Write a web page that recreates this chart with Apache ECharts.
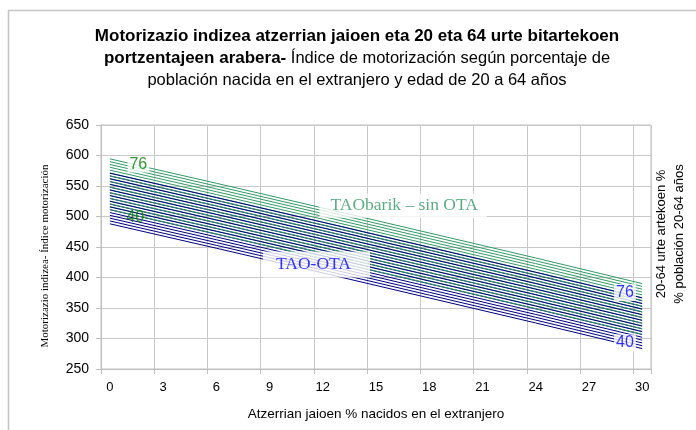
<!DOCTYPE html>
<html><head><meta charset="utf-8">
<script src="https://cdn.jsdelivr.net/npm/echarts@6/dist/echarts.min.js"></script>
<style>html,body{margin:0;padding:0;background:#fff}#c{width:696px;height:430px}</style>
</head><body><div id="c"></div>
<script>
// x categories: % born abroad
const categories = ['0','1','2','3','4','5','6','7','8','9','10','11','12','13','14','15','16','17','18','19','20','21','22','23','24','25','26','27','28','29','30'];
// x positions (category values) where each line's values were read
const pointX = [0, 6, 12, 18, 24, 30];
// % population aged 20-64 for each line
const popLevels = [40,42,44,46,48,50,52,54,56,58,60,62,64,66,68,70,72,74,76];
// TAObarik – sin OTA (green), one row per population level
const greenLines = [
  [511.5, 471.5, 431.0, 390.0, 349.0, 307.0],
  [516.1, 476.1, 435.6, 394.6, 353.6, 311.6],
  [520.7, 480.7, 440.2, 399.2, 358.2, 316.2],
  [525.3, 485.3, 444.8, 403.8, 362.8, 320.8],
  [529.9, 489.9, 449.4, 408.4, 367.4, 325.4],
  [534.6, 494.6, 454.1, 413.1, 372.1, 330.1],
  [539.2, 499.2, 458.7, 417.7, 376.7, 334.7],
  [543.8, 503.8, 463.3, 422.3, 381.3, 339.3],
  [548.4, 508.4, 467.9, 426.9, 385.9, 343.9],
  [553.0, 513.0, 472.5, 431.5, 390.5, 348.5],
  [557.6, 517.6, 477.1, 436.1, 395.1, 353.1],
  [562.2, 522.2, 481.7, 440.7, 399.7, 357.7],
  [566.8, 526.8, 486.3, 445.3, 404.3, 362.3],
  [571.4, 531.4, 490.9, 449.9, 408.9, 366.9],
  [576.0, 536.0, 495.5, 454.5, 413.5, 371.5],
  [580.7, 540.7, 500.2, 459.2, 418.2, 376.2],
  [585.3, 545.3, 504.8, 463.8, 422.8, 380.8],
  [589.9, 549.9, 509.4, 468.4, 427.4, 385.4],
  [594.5, 554.5, 514.0, 473.0, 432.0, 390.0]
];
// TAO-OTA (blue), one row per population level
const blueLines = [
  [488.0, 448.0, 407.5, 366.5, 325.5, 283.5],
  [492.7, 452.7, 412.2, 371.2, 330.2, 288.2],
  [497.3, 457.3, 416.8, 375.8, 334.8, 292.8],
  [501.9, 461.9, 421.4, 380.4, 339.4, 297.4],
  [506.5, 466.5, 426.0, 385.0, 344.0, 302.0],
  [511.1, 471.1, 430.6, 389.6, 348.6, 306.6],
  [515.7, 475.7, 435.2, 394.2, 353.2, 311.2],
  [520.3, 480.3, 439.8, 398.8, 357.8, 315.8],
  [524.9, 484.9, 444.4, 403.4, 362.4, 320.4],
  [529.5, 489.5, 449.0, 408.0, 367.0, 325.0],
  [534.2, 494.2, 453.7, 412.7, 371.7, 329.7],
  [538.8, 498.8, 458.3, 417.3, 376.3, 334.3],
  [543.4, 503.4, 462.9, 421.9, 380.9, 338.9],
  [548.0, 508.0, 467.5, 426.5, 385.5, 343.5],
  [552.6, 512.6, 472.1, 431.1, 390.1, 348.1],
  [557.2, 517.2, 476.7, 435.7, 394.7, 352.7],
  [561.8, 521.8, 481.3, 440.3, 399.3, 357.3],
  [566.4, 526.4, 485.9, 444.9, 403.9, 361.9],
  [571.0, 531.0, 490.5, 449.5, 408.5, 366.5]
];

const GREEN = '#339966', BLUE = '#000080';
const chart = echarts.init(document.getElementById('c'), null, {renderer: 'canvas'});

const lineSeries = [];
popLevels.forEach((p, i) => {
  lineSeries.push({
    name: 'TAO-OTA ' + p, type: 'line', silent: true, showSymbol: false, symbol: 'none',
    z: (i >= 5 && (i - 5) % 2 === 1) ? 3 : 2,
    lineStyle: {color: BLUE, width: 1},
    data: pointX.map((x, j) => [x, blueLines[i][j]])
  });
});
popLevels.forEach((p, i) => {
  lineSeries.push({
    name: 'TAObarik ' + p, type: 'line', silent: true, showSymbol: false, symbol: 'none',
    z: (i % 2 === 0) ? 3 : 2,
    lineStyle: {color: GREEN, width: 1},
    data: pointX.map((x, j) => [x, greenLines[i][j]])
  });
});

const numLabel = (color, bg, offset, pad) => ({
  show: true, position: 'inside', color: color, fontFamily: 'Liberation Sans', fontSize: 16,
  lineHeight: 15, backgroundColor: bg, padding: pad, offset: offset
});

lineSeries.push({
  name: 'labels', type: 'scatter', silent: true, symbolSize: 0, z: 10,
  data: [
    {value: [2, 584.4], label: Object.assign(numLabel('#008000', '#fff', [-7, 0], [0, 2, 0, 2]), {formatter: String(popLevels[popLevels.length - 1])})},
    {value: [1, 498.7], label: Object.assign(numLabel('#008000', 'transparent', [7.6, 0], 0), {formatter: String(popLevels[0])})},
    {value: [29, 375.4], label: Object.assign(numLabel('#0000ff', '#fff', [0.6, 0], [1, 2, 1, 2]), {formatter: String(popLevels[popLevels.length - 1])})},
    {value: [29, 292.9], label: Object.assign(numLabel('#0000ff', '#fff', [0.6, 0], [1, 2, 1, 2]), {formatter: String(popLevels[0])})},
    {value: [17, 517.7], label: {show: true, position: 'inside', formatter: 'TAObarik – sin OTA', color: GREEN,
      fontFamily: 'Liberation Serif', fontSize: 17.5, lineHeight: 18, backgroundColor: '#fff', padding: [3, 9, 3, 11], offset: [-8.3, 0]}},
    {value: [11, 416.4], label: {show: true, position: 'inside', formatter: 'TAO-OTA', color: '#0000ff',
      fontFamily: 'Liberation Serif', fontSize: 17.5, lineHeight: 18, backgroundColor: '#fff', padding: [7, 19, 1, 13], offset: [11.5, -3]}}
  ]
});

chart.setOption({
  animation: false,
  backgroundColor: '#fff',
  title: {
    text: '{b|Motorizazio indizea atzerrian jaioen eta 20 eta 64 urte bitartekoen}\n{b|portzentajeen arabera-}{n| Índice de motorización según porcentaje de}\n{n|población nacida en el extranjero y edad de 20 a 64 años}',
    left: 357, textAlign: 'center', top: 25, padding: 0,
    textStyle: {
      rich: {
        b: {fontFamily: 'Liberation Sans', fontWeight: 'bold', fontSize: 17, lineHeight: 22, color: '#000'},
        n: {fontFamily: 'Liberation Sans', fontWeight: 'normal', fontSize: 16.5, lineHeight: 22, color: '#000'}
      }
    }
  },
  graphic: [
    {type: 'rect', silent: true, z: -10, shape: {x: 8.5, y: 10.5, width: 800, height: 600},
      style: {fill: 'none', stroke: '#c4c4c4', lineWidth: 1.5}},
    {type: 'text', silent: true, x: 670, y: 234, rotation: Math.PI / 2,
      style: {text: '20-64 urte artekoen %\n% población 20-64 años', font: '13px "Liberation Sans"', align: 'center', verticalAlign: 'middle', lineHeight: 18, fill: '#000'}}
  ],
  grid: {left: 101, right: 45, top: 125, bottom: 61, show: true, borderColor: '#c0c0c0', borderWidth: 1, backgroundColor: 'transparent'},
  xAxis: {
    type: 'category', data: categories, boundaryGap: true,
    name: 'Atzerrian jaioen % nacidos en el extranjero', nameLocation: 'middle', nameGap: 38,
    nameTextStyle: {fontFamily: 'Liberation Sans', fontSize: 13.5, color: '#000'},
    axisLine: {show: true, lineStyle: {color: '#bfbfbf'}},
    axisTick: {show: true, interval: 2, length: 5, lineStyle: {color: '#bfbfbf'}},
    axisLabel: {interval: 2, margin: 12, fontFamily: 'Liberation Sans', fontSize: 13, color: '#000'},
    splitLine: {show: true, interval: 2, lineStyle: {color: '#c8c8c8', width: 1}}
  },
  yAxis: {
    type: 'value', min: 250, max: 650, interval: 50,
    name: 'Motorizazio indizea- Índice motorización', nameLocation: 'middle', nameGap: 50,
    nameTextStyle: {fontFamily: 'Liberation Serif', fontSize: 11, color: '#000', padding: [0, 18, 0, 0]},
    axisLine: {show: true, lineStyle: {color: '#bfbfbf'}},
    axisTick: {show: true, length: 5, lineStyle: {color: '#bfbfbf'}},
    axisLabel: {margin: 12, fontFamily: 'Liberation Sans', fontSize: 14, color: '#000'},
    splitLine: {show: true, lineStyle: {color: '#c8c8c8', width: 1}}
  },
  series: lineSeries
});
</script></body></html>
